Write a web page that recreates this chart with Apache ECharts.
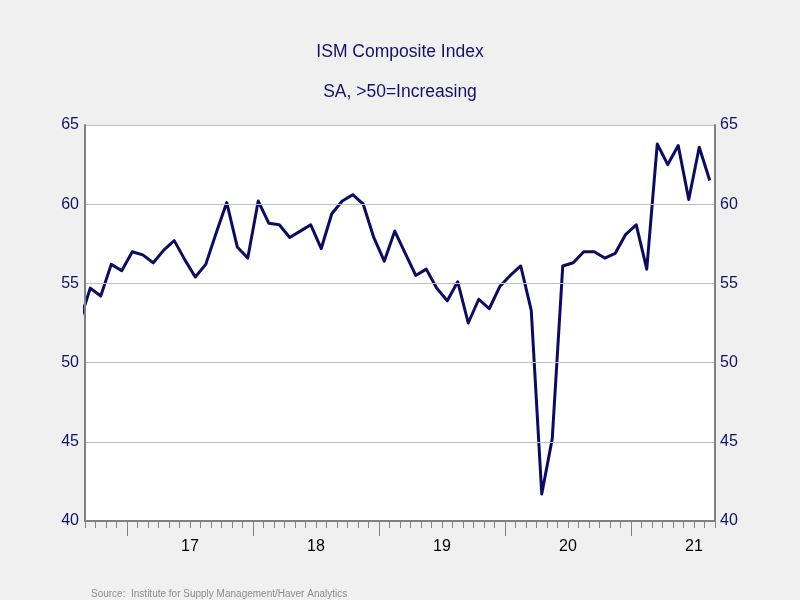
<!DOCTYPE html>
<html>
<head>
<meta charset="utf-8">
<title>ISM Composite Index</title>
<script src="https://cdn.jsdelivr.net/npm/echarts@6/dist/echarts.min.js"></script>
<style>
  html, body { margin: 0; padding: 0; background: #f0f0f0; }
  #chart { width: 800px; height: 600px; }
</style>
</head>
<body>
<div id="chart"></div>
<script>
// monthly readings, Aug 2016 .. Aug 2021 (first one sits just left of the axis)
var startYear = 2016
var startMonth = 8
var indexValues = [
  52.6, 54.7, 54.2, 56.2, 55.8,
  57.0, 56.8, 56.3, 57.1, 57.7, 56.5, 55.4, 56.2, 58.2, 60.1, 57.3, 56.6,
  60.2, 58.8, 58.7, 57.9, 58.3, 58.7, 57.2, 59.4, 60.2, 60.6, 60.0, 57.9,
  56.4, 58.3, 56.9, 55.5, 55.9, 54.7, 53.9, 55.1, 52.5, 54.0, 53.4, 54.8,
  55.5, 56.1, 53.3, 41.7, 45.2, 56.1, 56.3, 57.0, 57.0, 56.6, 56.9, 58.1,
  58.7, 55.9, 63.8, 62.5, 63.7, 60.3, 63.6, 61.5
]
var yearLabels = ['17', '18', '19', '20', '21']
var yTicks = [40, 45, 50, 55, 60, 65]

// x is counted in months from 1 Jan 2017, points sit mid-month
var seriesData = []
for (var i = 0; i < indexValues.length; i++) {
  var m = (startYear - 2017) * 12 + (startMonth - 1) + i
  seriesData.push([m + 0.5, indexValues[i]])
}
var yearStarts = []
var yearMids = []
for (var j = 0; j < yearLabels.length; j++) {
  yearStarts.push(j * 12)
  yearMids.push(j * 12 + 6)
}

var font = 'Liberation Sans, Arial, sans-serif'
var navy = '#121268'
var axisGray = '#808080'

const chart = echarts.init(document.getElementById('chart'))
const option = {
  backgroundColor: '#f0f0f0',
  animation: false,
  title: [
    {
      text: 'ISM Composite Index',
      left: 'center',
      top: 38,
      textStyle: { color: navy, fontSize: 17.5, fontWeight: 'normal', fontFamily: font }
    },
    {
      text: 'SA, >50=Increasing',
      left: 'center',
      top: 78,
      textStyle: { color: navy, fontSize: 17.5, fontWeight: 'normal', fontFamily: font }
    },
    {
      text: 'Source:  Institute for Supply Management/Haver Analytics',
      left: 86,
      top: 584,
      textStyle: { color: '#8c8c8c', fontSize: 10, fontWeight: 'normal', fontFamily: font }
    }
  ],
  grid: {
    left: 85,
    right: 85,
    top: 125,
    bottom: 79,
    show: true,
    backgroundColor: '#ffffff',
    borderWidth: 0
  },
  xAxis: [
    {
      type: 'value',
      min: -4,
      max: 56,
      interval: 1,
      position: 'bottom',
      z: 5,
      axisLine: { onZero: false, lineStyle: { color: axisGray, width: 2 } },
      axisTick: { length: 7, lineStyle: { color: axisGray, width: 1 } },
      axisLabel: { show: false },
      splitLine: { show: false }
    },
    {
      type: 'value',
      min: -4,
      max: 56,
      position: 'bottom',
      z: 5,
      axisLine: { show: false, onZero: false },
      axisTick: { customValues: yearStarts, length: 15, lineStyle: { color: axisGray, width: 1 } },
      axisLabel: {
        customValues: yearMids,
        margin: 18,
        color: '#000000',
        fontSize: 16,
        fontFamily: font,
        formatter: function (v) {
          return yearLabels[Math.round((v - 6) / 12)]
        }
      },
      splitLine: { show: false }
    }
  ],
  yAxis: [
    {
      type: 'value',
      min: yTicks[0],
      max: yTicks[yTicks.length - 1],
      interval: 5,
      position: 'left',
      z: 5,
      axisLine: { show: true, onZero: false, lineStyle: { color: axisGray, width: 2 } },
      axisTick: { show: false },
      axisLabel: { color: navy, fontSize: 16, fontFamily: font, margin: 6 },
      splitLine: { lineStyle: { color: '#c0c0c0', width: 1 } }
    },
    {
      type: 'value',
      min: yTicks[0],
      max: yTicks[yTicks.length - 1],
      interval: 5,
      position: 'right',
      z: 5,
      axisLine: { show: true, onZero: false, lineStyle: { color: axisGray, width: 2 } },
      axisTick: { show: false },
      axisLabel: { color: navy, fontSize: 16, fontFamily: font, margin: 5 },
      splitLine: { show: false }
    }
  ],
  series: [
    {
      name: 'ISM Composite Index',
      type: 'line',
      xAxisIndex: 0,
      yAxisIndex: 0,
      data: seriesData,
      showSymbol: false,
      clip: true,
      z: 2,
      lineStyle: { color: '#0c0c5e', width: 3, join: 'round' }
    }
  ]
}
chart.setOption(option)
</script>
</body>
</html>
